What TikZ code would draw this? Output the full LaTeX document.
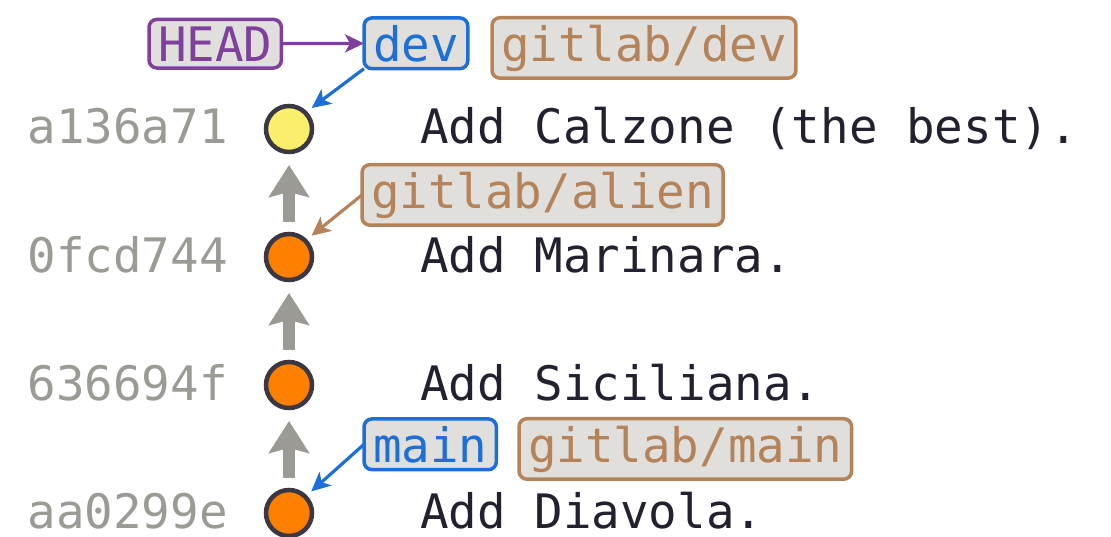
\documentclass[tikz,border=0pt]{standalone}
\usepackage{fontspec}
\setmonofont{DejaVu Sans Mono}
\usetikzlibrary{arrows.meta, positioning}
\definecolor{ink}{HTML}{23212F}
\definecolor{hashgray}{HTML}{9B9A95}
\definecolor{rim}{HTML}{3A3845}
\definecolor{commitorange}{HTML}{FF7F00}
\definecolor{commityellow}{HTML}{F9EF6A}
\definecolor{headpurple}{HTML}{7E3F9D}
\definecolor{branchblue}{HTML}{1C6FD9}
\definecolor{remotebrown}{HTML}{B5835A}
\definecolor{tagfill}{HTML}{E0DFDB}

\begin{document}
\begin{tikzpicture}[
  x=1pt, y=-1pt,
  font=\ttfamily\fontsize{47.5}{54}\selectfont,
  commit/.style={circle, draw=rim, line width=4.5pt, minimum size=46pt,
                 inner sep=0pt, outer sep=0pt},
  hash/.style={anchor=base east, text=hashgray, inner sep=0pt},
  msg/.style={anchor=base west, text=ink, inner sep=0pt},
  reftag/.style={draw=#1, text=#1, fill=tagfill, line width=3.5pt,
                 rounded corners=8pt, inner xsep=9pt, inner ysep=7pt,
                 outer sep=0pt, anchor=base west},
  parent/.style={draw=hashgray, line width=12pt,
                 -{Stealth[length=32pt, width=40pt, inset=5pt]},
                 shorten <=12pt, shorten >=13pt},
  pointer/.style={draw=#1, line width=3.2pt, ->, >={Stealth[length=19pt, width=18pt, inset=5pt]}}
]
\useasboundingbox (0,0) rectangle (1111,536);

% commits, newest on top
\node[commit, fill=commityellow] (c1) at (289,129) {};
\node[commit, fill=commitorange] (c2) at (289,257) {};
\node[commit, fill=commitorange] (c3) at (289,385) {};
\node[commit, fill=commitorange] (c4) at (289,513) {};

\node[hash] (h1) at (228,143) {a136a71};
\node[hash] (h2) at (228,272) {0fcd744};
\node[hash] (h3) at (228,400) {636694f};
\node[hash] (h4) at (228,528) {aa0299e};

\node[msg] (m1) at (420,143) {Add Calzone (the best).};
\node[msg] (m2) at (420,272) {Add Marinara.};
\node[msg] (m3) at (420,400) {Add Siciliana.};
\node[msg] (m4) at (420,528) {Add Diavola.};

% refs
\node[reftag=headpurple]  (head)   at (149,61)  {HEAD};
\node[reftag=branchblue]  (dev)    at (364,61)  {dev};
\node[reftag=remotebrown] (rdev)   at (492,61)  {gitlab/dev};
\node[reftag=remotebrown] (ralien) at (362,208) {gitlab/alien};
\node[reftag=branchblue]  (main)   at (364,462) {main};
\node[reftag=remotebrown] (rmain)  at (519,462) {gitlab/main};

% parent links
\draw[parent] (c2) -- (c1);
\draw[parent] (c3) -- (c2);
\draw[parent] (c4) -- (c3);

% ref pointers
\draw[pointer=headpurple] (head) -- (dev);
\draw[pointer=branchblue, shorten >=8pt] (dev.south west) -- (c1.north east);
\draw[pointer=remotebrown, shorten >=8pt] (ralien.west) -- (c2.north east);
\draw[pointer=branchblue, shorten >=8pt] (main.west) -- (c4.north east);
\end{tikzpicture}
\end{document}
